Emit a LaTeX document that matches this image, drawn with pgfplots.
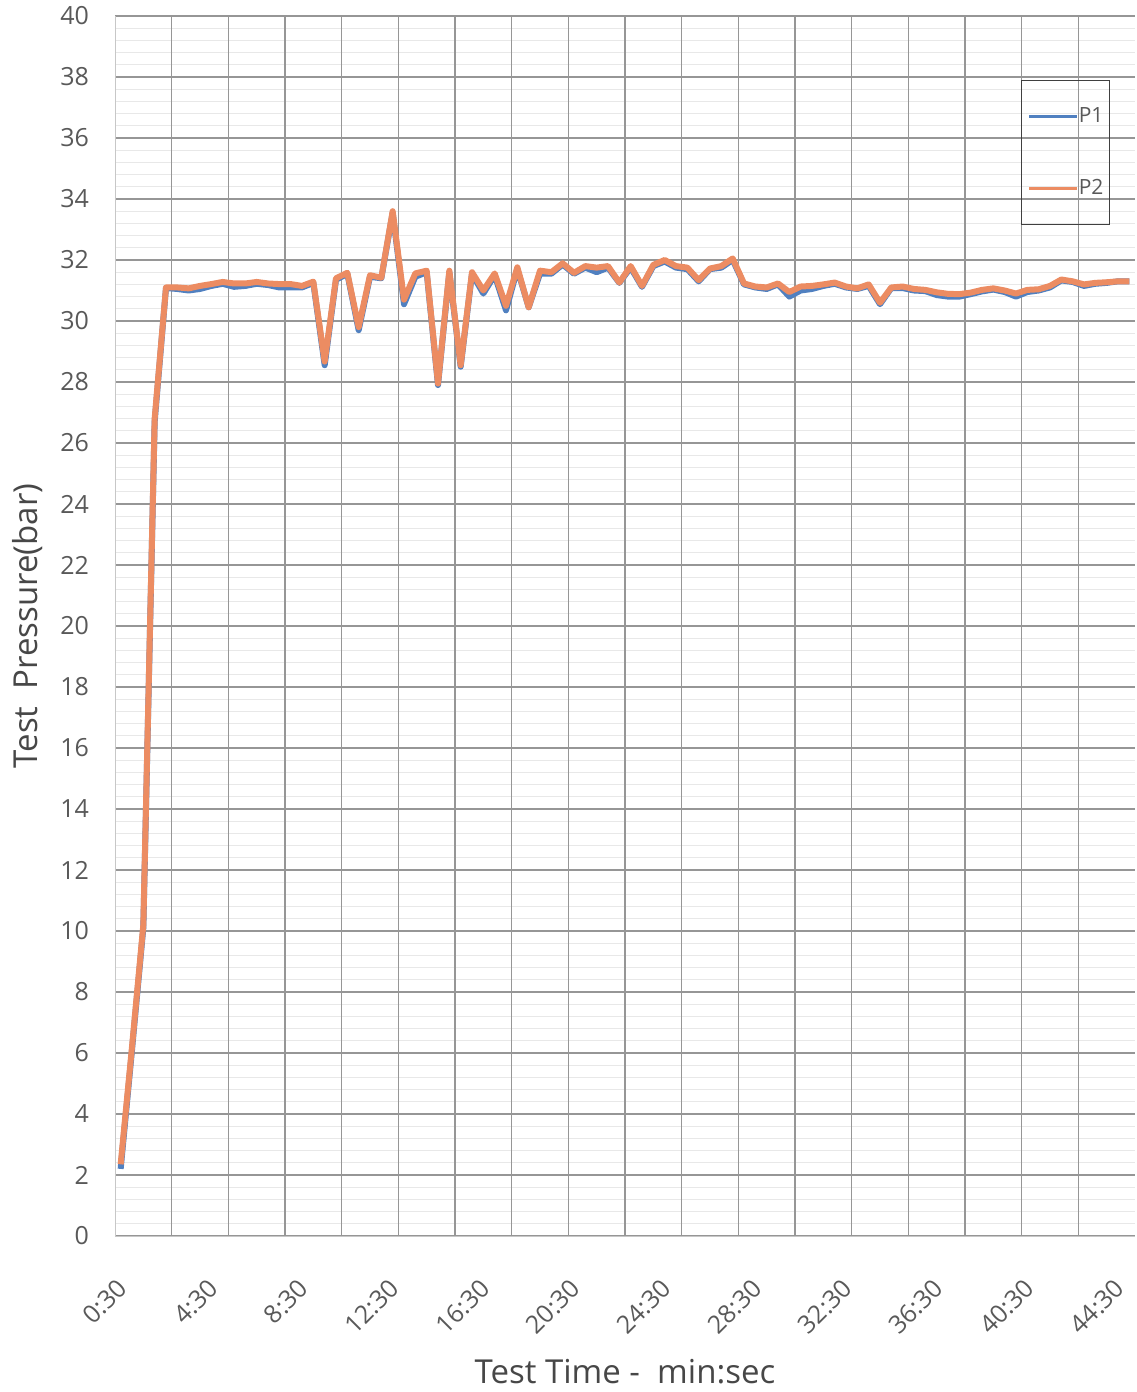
\documentclass[border=0pt]{standalone}
\usepackage{fontspec}
\setmainfont{Open Sans}
\usepackage{pgfplots}
\usepackage{pgfplotstable}
\pgfplotsset{compat=1.18}
\definecolor{pblue}{RGB}{80,128,192}
\definecolor{porange}{RGB}{236,140,98}
\definecolor{txtgray}{RGB}{89,89,89}
\definecolor{gridmaj}{RGB}{150,150,150}
\definecolor{gridmin}{RGB}{232,232,232}

\pgfplotstableread{
t p1 p2
0.5 2.20 2.35
1.0 6.10 6.20
1.5 10.10 10.20
2.0 26.70 26.80
2.5 31.08 31.10
3.0 31.05 31.10
3.5 31.00 31.07
4.0 31.05 31.15
4.5 31.15 31.21
5.0 31.22 31.28
5.5 31.12 31.23
6.0 31.15 31.23
6.5 31.22 31.28
7.0 31.18 31.23
7.5 31.10 31.21
8.0 31.10 31.21
8.5 31.10 31.15
9.0 31.25 31.29
9.5 28.55 28.67
10.0 31.35 31.40
10.5 31.55 31.58
11.0 29.70 29.80
11.5 31.45 31.50
12.0 31.40 31.42
12.5 33.55 33.60
13.0 30.55 30.70
13.5 31.45 31.56
14.0 31.60 31.65
14.5 27.90 27.95
15.0 31.60 31.65
15.5 28.50 28.55
16.0 31.55 31.60
16.5 30.90 31.00
17.0 31.50 31.56
17.5 30.35 30.50
18.0 31.70 31.76
18.5 30.45 30.45
19.0 31.55 31.65
19.5 31.55 31.60
20.0 31.85 31.89
20.5 31.55 31.58
21.0 31.75 31.80
21.5 31.60 31.75
22.0 31.75 31.80
22.5 31.25 31.26
23.0 31.75 31.80
23.5 31.12 31.15
24.0 31.80 31.84
24.5 31.95 32.00
25.0 31.75 31.80
25.5 31.70 31.75
26.0 31.30 31.34
26.5 31.70 31.72
27.0 31.75 31.80
27.5 32.00 32.05
28.0 31.20 31.23
28.5 31.10 31.13
29.0 31.05 31.10
29.5 31.20 31.23
30.0 30.80 30.95
30.5 31.00 31.13
31.0 31.05 31.15
31.5 31.15 31.20
32.0 31.22 31.26
32.5 31.10 31.13
33.0 31.05 31.07
33.5 31.15 31.20
34.0 30.55 30.60
34.5 31.08 31.10
35.0 31.08 31.13
35.5 31.00 31.05
36.0 30.98 31.02
36.5 30.85 30.94
37.0 30.80 30.89
37.5 30.80 30.88
38.0 30.88 30.93
38.5 30.97 31.02
39.0 31.03 31.07
39.5 30.95 31.00
40.0 30.80 30.90
40.5 30.95 31.02
41.0 31.00 31.04
41.5 31.10 31.15
42.0 31.33 31.36
42.5 31.28 31.30
43.0 31.15 31.20
43.5 31.22 31.25
44.0 31.25 31.27
44.5 31.30 31.30
45.0 31.30 31.30
}\data

\begin{document}
\begin{tikzpicture}
\begin{axis}[
  at={(0,0)}, anchor=south west,
  scale only axis, width=510pt, height=610pt,
  xmin=0.25, xmax=45.25, ymin=0, ymax=40,
  xtick={0.5,4.5,...,44.5},
  xticklabels={0:30,4:30,8:30,12:30,16:30,20:30,24:30,28:30,32:30,36:30,40:30,44:30},
  extra x ticks={2.75,5.25,...,42.75},
  extra x tick labels={},
  extra x tick style={grid=major},
  ytick={0,2,...,40},
  minor y tick num=4,
  xmajorgrids=false,
  ymajorgrids=true, yminorgrids=true,
  major grid style={gridmaj, line width=0.7pt},
  minor grid style={gridmin, line width=0.4pt},
  major tick length=0pt, minor tick length=0pt,
  axis x line*=bottom, axis y line*=left,
  axis line style={draw=black!22, -},
  /pgf/number format/assume math mode=true,
  tick label style={font=\fontsize{12.5}{14}\selectfont, text=txtgray},
  xticklabel style={xshift=1pt, yshift=-24pt, rotate=45, anchor=east, inner sep=0pt},
  yticklabel style={anchor=east, xshift=-9.5pt},
  xlabel={Test Time -\ \ min:sec},
  ylabel={Test\ \ Pressure(bar)},
  label style={font=\fontsize{16.5}{20}\selectfont, text=black!72},
  xlabel style={at={(axis description cs:0.5,-0.1115)}, anchor=center, rotate=0},
  ylabel style={at={(axis description cs:-0.0853,0.5)}, anchor=center},
  legend style={at={(axis description cs:0.9755,0.9475)}, anchor=north east,
     draw=black!75, line width=0.6pt, fill=none,
     inner xsep=3pt, inner ysep=10.5pt, row sep=21pt,
     font=\fontsize{10.5}{12}\selectfont, text=txtgray,
     nodes={inner xsep=0pt, inner ysep=3pt},
     cells={anchor=west}},
  legend image code/.code={\draw[#1, line width=1.6pt] (0pt,0pt) -- (24pt,0pt);},
]
\addplot[pblue, line width=3pt, line join=round] table[x=t,y=p1]{\data};
\addlegendentry{P1}
\addplot[porange, line width=3pt, line join=round] table[x=t,y=p2]{\data};
\addlegendentry{P2}
\end{axis}
\pgfresetboundingbox
\path[use as bounding box] (-57.5pt,-78pt) rectangle (510.5pt,618pt);
\end{tikzpicture}
\end{document}
